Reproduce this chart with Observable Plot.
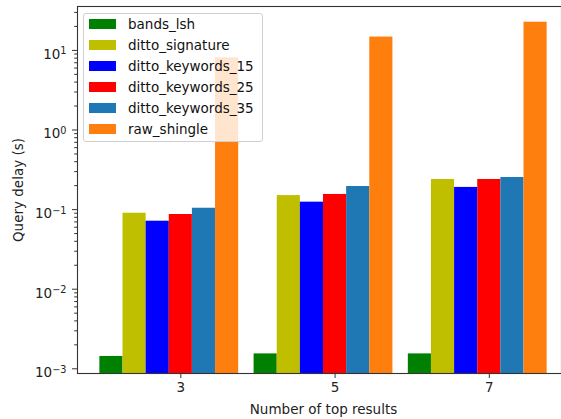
<!DOCTYPE html>
<html>
<head>
<meta charset="utf-8">
<script src="https://cdn.jsdelivr.net/npm/d3@7"></script>
<script src="https://cdn.jsdelivr.net/npm/@observablehq/plot@0.6"></script>
<style>
  html, body { margin: 0; padding: 0; background: #fff; }
  #wrap { position: relative; width: 561px; height: 419px; overflow: hidden; font-family: "DejaVu Sans", sans-serif; }
  #legend { position: absolute; left: 83px; top: 13px; width: 178px; height: 127px;
    border: 1px solid #d0d0d0; border-radius: 3px; background: rgba(255,255,255,0.8); }
  .row { position: absolute; left: 0; height: 16px; display: flex; align-items: center; font-size: 13.5px; color: #111; white-space: nowrap; }
  .sw { width: 27px; height: 10px; margin-left: 5px; margin-right: 12px; }
</style>
</head>
<body>
<div id="wrap"></div>
<script>
const groups = [3, 5, 7];
const series = ["bands_lsh", "ditto_signature", "ditto_keywords_15", "ditto_keywords_25", "ditto_keywords_35", "raw_shingle"];
const colors = ["#008000", "#bfbf00", "#0000ff", "#ff0000", "#1f77b4", "#ff7f0e"];
const bandsLsh = [0.00143, 0.00154, 0.00154];
const dittoSignature = [0.090, 0.150, 0.239];
const dittoKeywords15 = [0.0715, 0.124, 0.190];
const dittoKeywords25 = [0.0868, 0.155, 0.239];
const dittoKeywords35 = [0.104, 0.195, 0.253];
const rawShingle = [8.07, 14.7, 22.6];
const yMajorTicks = [0.001, 0.01, 0.1, 1, 10];
const yMinorTicks = [0.002,0.003,0.004,0.005,0.006,0.007,0.008,0.009,
  0.02,0.03,0.04,0.05,0.06,0.07,0.08,0.09,
  0.2,0.3,0.4,0.5,0.6,0.7,0.8,0.9,
  2,3,4,5,6,7,8,9, 20,30];
const xTicks = [3, 5, 7];

const values = [bandsLsh, dittoSignature, dittoKeywords15, dittoKeywords25, dittoKeywords35, rawShingle];
const rows = [];
series.forEach((s, i) => groups.forEach((g, j) => rows.push({group: g, series: s, i, value: values[i][j]})));

const barW = 0.3;
const yMin = 0.000873, yMax = 35.6;

const plot = Plot.plot({
  width: 561,
  height: 419,
  marginLeft: 77,
  marginRight: 0,
  marginTop: 6,
  marginBottom: 46,
  style: {fontFamily: "DejaVu Sans, sans-serif", fontSize: "13.5px", color: "#222", background: "#fff"},
  x: {type: "linear", domain: [1.66, 8.04], range: [77, 569]},
  y: {type: "log", domain: [yMin, yMax]},
  color: {domain: series, range: colors},
  marks: [
    Plot.rectY(rows, {
      x1: d => d.group + (d.i - 3) * barW - barW / 2,
      x2: d => d.group + (d.i - 3) * barW + barW / 2,
      y1: yMin,
      y2: "value",
      fill: "series"
    }),
    Plot.frame({stroke: "#333", strokeWidth: 1.1}),
    Plot.axisY(yMinorTicks, {tickSize: 2.8, tickFormat: () => "", label: null, stroke: "#333"}),
    Plot.axisY({ticks: yMajorTicks, tickSize: 5, tickPadding: 6, label: null, stroke: "#333",
      tickFormat: d => "10^" + Math.round(Math.log10(d))}),
    Plot.axisX({ticks: xTicks, tickSize: 5, tickPadding: 4, label: null, stroke: "#333", tickFormat: d => String(d)}),
    Plot.text(["Query delay (s)"], {frameAnchor: "left", dx: -59, rotate: -90, text: d => d, fill: "#222", textAnchor: "middle", lineAnchor: "middle"}),
    Plot.text(["Number of top results"], {frameAnchor: "bottom", dx: 4, dy: 36, text: d => d, fill: "#222", lineAnchor: "middle"})
  ]
});

// superscript exponents on the log axis labels
plot.querySelectorAll("text").forEach(t => {
  const s = t.textContent;
  if (/^10\^-?\d+$/.test(s)) {
    const exp = s.split("^")[1].replace("-", "\u2212");
    t.textContent = "10";
    const ts = document.createElementNS("http://www.w3.org/2000/svg", "tspan");
    ts.setAttribute("dy", "-0.45em");
    ts.setAttribute("font-size", "0.72em");
    ts.textContent = exp;
    t.appendChild(ts);
    t.setAttribute("dy", "0.3em");
  }
});

const wrap = document.getElementById("wrap");
wrap.appendChild(plot);

const legend = document.createElement("div");
legend.id = "legend";
series.forEach((s, i) => {
  const r = document.createElement("div");
  r.className = "row";
  r.style.top = (i * 21 + 2) + "px";
  const sw = document.createElement("div");
  sw.className = "sw";
  sw.style.background = colors[i];
  const lab = document.createElement("span");
  lab.textContent = s;
  r.appendChild(sw);
  r.appendChild(lab);
  legend.appendChild(r);
});
wrap.appendChild(legend);
</script>
</body>
</html>
